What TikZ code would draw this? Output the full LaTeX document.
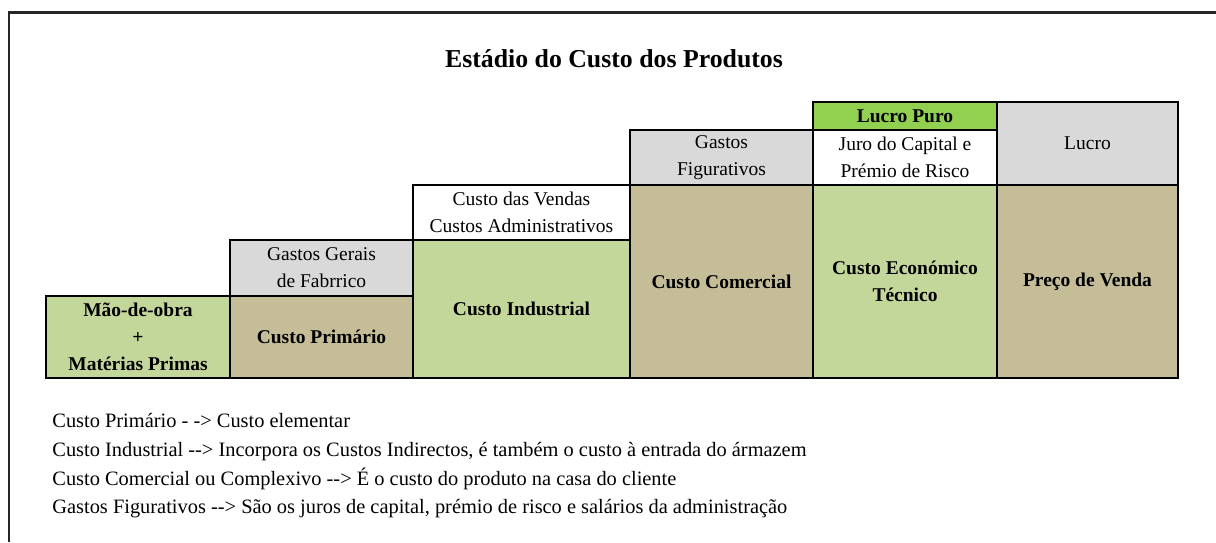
\documentclass[tikz,border=0pt]{standalone}
\usepackage{fontspec}
\setmainfont{Liberation Serif}
\usetikzlibrary{positioning}

\definecolor{custogreen}{HTML}{C4D79B}
\definecolor{custotan}{HTML}{C4BD97}
\definecolor{custogray}{HTML}{D9D9D9}
\definecolor{lucrogreen}{HTML}{92D050}

\begin{document}
\begin{tikzpicture}[
  x=0.5pt, y=-0.5pt,
  node distance=0pt,
  cell/.style={draw, line width=1.1pt, outer sep=0pt, inner sep=0pt, align=center, font=\fontsize{9.75}{13.5}\selectfont},
  hdr/.style={cell, font=\fontsize{9.75}{13.5}\selectfont\bfseries},
  nota/.style={anchor=base west, inner sep=0pt, font=\fontsize{10.2}{12}\selectfont}
]
\useasboundingbox (0,0) rectangle (1216,542);
\draw[line width=1.3pt, black!85] (9,542) |- (1216,12.5);

\node[anchor=base, font=\fontsize{12.9}{15}\selectfont\bfseries] (titulo) at (614,67) {Estádio do Custo dos Produtos};

\node[hdr, fill=custogreen, minimum width=92pt, minimum height=41pt, anchor=south west] (mao) at (46,378) {Mão-de-obra\\+\\Matérias Primas};
\node[hdr, fill=custotan, minimum width=91.5pt, minimum height=41pt, anchor=south west] (primario) at (mao.south east) {Custo Primário};
\node[cell, fill=custogray, minimum width=91.5pt, minimum height=28pt, above=of primario] (gerais) {Gastos Gerais\\de Fabrrico};

\node[hdr, fill=custogreen, minimum width=108.5pt, minimum height=69pt, anchor=south west] (industrial) at (primario.south east) {Custo Industrial};
\node[cell, fill=white, minimum width=108.5pt, minimum height=27.5pt, above=of industrial] (vendas) {Custo das Vendas\\Custos Administrativos};

\node[hdr, fill=custotan, minimum width=91.5pt, minimum height=96.5pt, anchor=south west] (comercial) at (industrial.south east) {Custo Comercial};
\node[cell, fill=custogray, minimum width=91.5pt, minimum height=27.5pt, above=of comercial] (figurativos) {Gastos\\Figurativos};

\node[hdr, fill=custogreen, minimum width=92pt, minimum height=96.5pt, anchor=south west] (economico) at (comercial.south east) {Custo Económico\\Técnico};
\node[cell, fill=white, minimum width=92pt, minimum height=27.5pt, above=of economico] (juro) {Juro do Capital e\\Prémio de Risco};
\node[hdr, fill=lucrogreen, minimum width=92pt, minimum height=14pt, above=of juro] (puro) {Lucro Puro};

\node[hdr, fill=custotan, minimum width=90.5pt, minimum height=96.5pt, anchor=south west] (venda) at (economico.south east) {Preço de Venda};
\node[cell, fill=custogray, minimum width=90.5pt, minimum height=41.5pt, above=of venda] (lucro) {Lucro};

\node[nota] (nota1) at (52,427) {Custo Primário - -> Custo elementar};
\node[nota] (nota2) at (52,456) {Custo Industrial -{}-> Incorpora os Custos Indirectos, é também o custo à entrada do ármazem};
\node[nota] (nota3) at (52,485) {Custo Comercial ou Complexivo -{}-> É o custo do produto na casa do cliente};
\node[nota] (nota4) at (52,513) {Gastos Figurativos -{}-> São os juros de capital, prémio de risco e salários da administração};
\end{tikzpicture}
\end{document}
